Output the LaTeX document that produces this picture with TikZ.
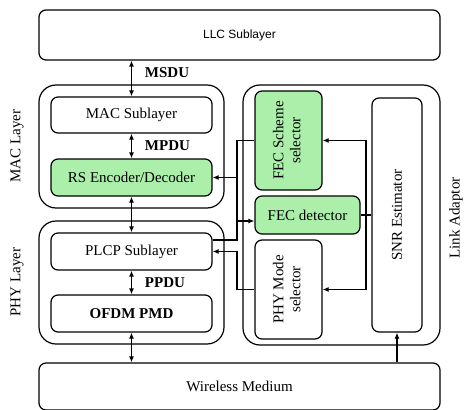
\documentclass[tikz,border=0pt]{standalone}
\usepackage{fontspec}
\setmainfont{Liberation Serif}
\newfontfamily\llcfont{Liberation Sans}
\usetikzlibrary{positioning,arrows.meta}
\definecolor{fecgreen}{RGB}{171,239,171}

\begin{document}
\begin{tikzpicture}[x=1pt,y=-1pt,line width=1.2pt,
    >={Latex[length=6pt,width=5pt]},
    every node/.style={font=\fontsize{15}{17}\selectfont},
    block/.style={rectangle,draw,rounded corners=7pt,inner sep=0pt},
    layer/.style={rectangle,draw,rounded corners=17pt,inner sep=0pt},
    fec/.style={block,fill=fecgreen},
    side/.style={rotate=90}]

    \useasboundingbox (0,0) rectangle (465,409);

    \node(llc) [block,minimum width=401pt,minimum height=50pt] at (239.5,35) {
      \llcfont\fontsize{12}{14}\selectfont LLC Sublayer
    };
    \node(wireless) [block,minimum width=401pt,minimum height=47pt] at (239.5,386.5) {
      Wireless Medium
    };

    \node(maclayer) [layer,minimum width=185pt,minimum height=123pt] at (131.5,146.5) {};
    \node(phylayer) [layer,minimum width=185pt,minimum height=123pt] at (131.5,282.5) {};
    \node(linkadaptor) [layer,minimum width=197pt,minimum height=260pt] at (341.5,215) {};

    \node(macsub) [block,minimum width=161pt,minimum height=36pt] at (131.5,115) {MAC Sublayer};
    \node(rs) [fec,minimum width=161pt,minimum height=37pt] at (131.5,177.5) {RS Encoder/Decoder};
    \node(plcp) [block,minimum width=161pt,minimum height=37pt] at (131.5,251.5) {PLCP Sublayer};
    \node(ofdm) [block,minimum width=161pt,minimum height=37pt] at (131.5,313.5) {\bfseries OFDM PMD};

    \node(fecsel) [fec,minimum width=67pt,minimum height=99pt] at (288.5,140.5) {
      \rotatebox{90}{\begin{tabular}{c}FEC Scheme\\selector\end{tabular}}
    };
    \node(fecdet) [fec,minimum width=105pt,minimum height=38pt] at (307.5,215) {FEC detector};
    \node(phymode) [block,minimum width=67pt,minimum height=99pt] at (288.5,289.5) {
      \rotatebox{90}{\begin{tabular}{c}PHY Mode\\selector\end{tabular}}
    };
    \node(snr) [block,minimum width=50pt,minimum height=234pt] at (397,215) {
      \rotatebox{90}{SNR Estimator}
    };

    \node(maclabel) [side] at (17,146) {MAC Layer};
    \node(phylabel) [side] at (17,282) {PHY Layer};
    \node(linklabel) [side] at (456,218) {Link Adaptor};

    \draw[<->] (macsub.north |- llc.south) to (macsub.north);
    \draw[<->] (macsub.south) to (rs.north);
    \draw[<->] (rs.south) to (plcp.north);
    \draw[<->] (plcp.south) to (ofdm.north);
    \draw[<->] (ofdm.south) to (ofdm.south |- wireless.north);
    \draw[->] (snr.south |- wireless.north) to (snr.south);

    \node(msdu) [anchor=west] at (141,73) {\bfseries MSDU};
    \node(mpdu) [anchor=west] at (141,146) {\bfseries MPDU};
    \node(ppdu) [anchor=west] at (141,283) {\bfseries PPDU};

    \coordinate (bus) at (237,0);
    \coordinate (sbus) at (366,0);
    \coordinate (detin) at ([yshift=-6pt]fecdet.west);
    \coordinate (plcpout) at ([yshift=11.5pt]plcp.east);

    \draw[->] (fecsel.west) -| (detin -| bus) to (detin);
    \draw[->] (rs.east -| bus) to (rs.east);
    \draw (plcpout) -| (detin -| bus);
    \draw[->] (phymode.west) -| (plcp.east -| bus) to (plcp.east);

    \draw (snr.west) to (fecdet.east);
    \draw[<->] (fecsel.east) -| (sbus |- phymode.east) to (phymode.east);

\end{tikzpicture}
\end{document}
